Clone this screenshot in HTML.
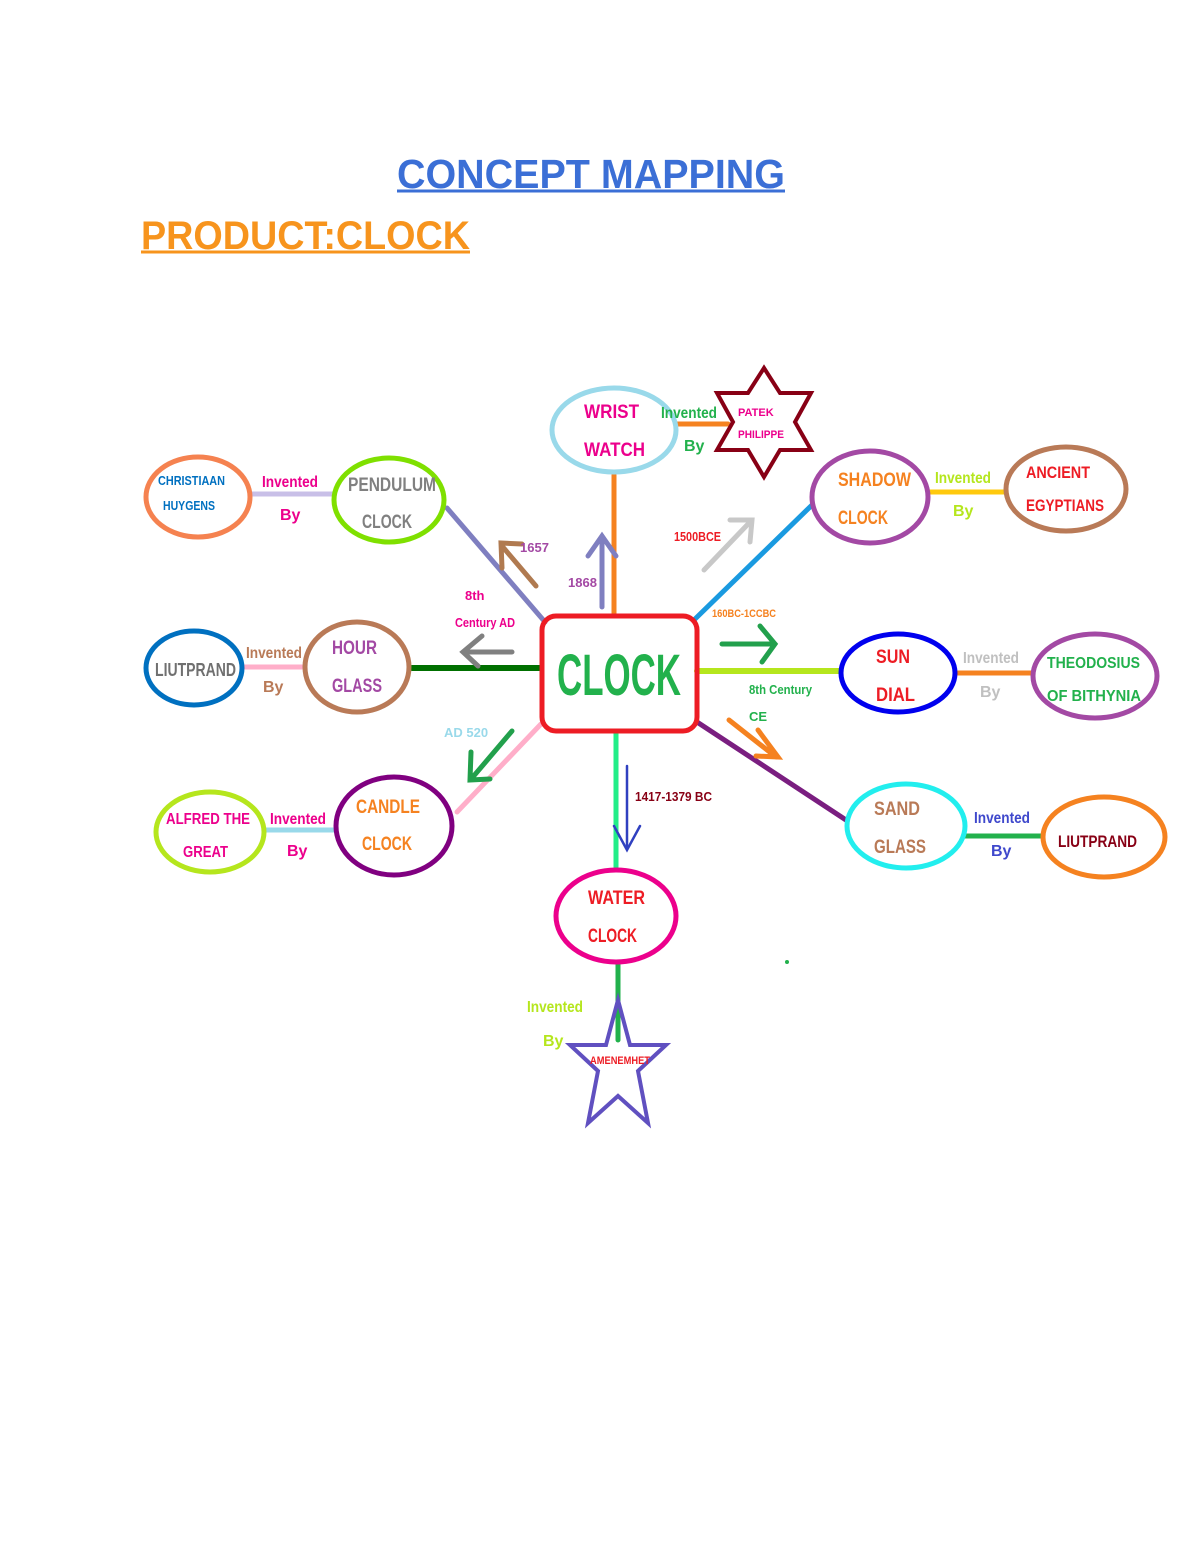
<!DOCTYPE html>
<html><head><meta charset="utf-8"><style>
html,body{margin:0;padding:0;background:#fff}
svg{display:block}
text{font-family:"Comic Sans MS","Liberation Sans",sans-serif;font-weight:bold}
</style></head><body>
<svg width="1200" height="1553" viewBox="0 0 1200 1553" xmlns="http://www.w3.org/2000/svg">
<text x="397" y="188" font-size="41" fill="#3b6fd6" textLength="388" lengthAdjust="spacingAndGlyphs">CONCEPT MAPPING</text>
<line x1="397" y1="191" x2="785" y2="191" stroke="#3b6fd6" stroke-width="3"/>
<text x="141" y="249" font-size="40" fill="#f7941d" textLength="329" lengthAdjust="spacingAndGlyphs">PRODUCT:CLOCK</text>
<line x1="141" y1="252" x2="470" y2="252" stroke="#f7941d" stroke-width="3"/>

<g stroke-width="5" fill="none" stroke-linecap="round">
<line x1="614" y1="475" x2="614" y2="615" stroke="#f58220"/>
<line x1="447" y1="508" x2="545" y2="622" stroke="#7f7fc0"/>
<line x1="694" y1="620" x2="812" y2="505" stroke="#1a9ae0"/>
<line x1="412" y1="668" x2="541" y2="668" stroke="#007000" stroke-width="6"/>
<line x1="697" y1="671" x2="840" y2="671" stroke="#b5e61d" stroke-width="6"/>
<line x1="457" y1="812" x2="541" y2="724" stroke="#ffaec9"/>
<line x1="697" y1="722" x2="846" y2="820" stroke="#7a1e80"/>
<line x1="616" y1="732" x2="616" y2="870" stroke="#22ee88"/>
<line x1="618" y1="962" x2="618" y2="1040" stroke="#22b14c"/>
<line x1="677" y1="424" x2="728" y2="424" stroke="#f58220"/>
<line x1="250" y1="494" x2="334" y2="494" stroke="#c8bfe7"/>
<line x1="929" y1="492" x2="1006" y2="492" stroke="#ffc90e"/>
<line x1="242" y1="667" x2="305" y2="667" stroke="#ffaec9"/>
<line x1="956" y1="673" x2="1033" y2="673" stroke="#f58220"/>
<line x1="265" y1="830" x2="336" y2="830" stroke="#99d9ea"/>
<line x1="965" y1="836" x2="1043" y2="836" stroke="#22b14c"/>
<path d="M602 607 V538 M588 556 L602 536 L616 556" stroke="#7f7fc0"/>
<path d="M536 586 L502 546 M502 568 L501 543 L522 544" stroke="#b07a50"/>
<path d="M704 570 L750 522 M730 520 L752 520 L750 542" stroke="#c8c8c8"/>
<path d="M512 652 H465 M482 636 L463 652 L478 666" stroke="#808080"/>
<path d="M722 644 H773 M760 626 L775 644 L762 662" stroke="#22a04c"/>
<path d="M512 731 L472 778 M471 752 L470 780 L490 779" stroke="#22a04c"/>
<path d="M729 720 L776 757 M758 730 L778 757 L756 756" stroke="#f58220"/>
<path d="M627 766 V848" stroke="#3040c0" stroke-width="2.5"/>
<path d="M614 826 L627 850 L640 826" stroke="#3040c0" stroke-width="2.5"/>
<ellipse cx="614" cy="430" rx="62" ry="42" stroke="#99d9ea"/>
<ellipse cx="198" cy="497" rx="52" ry="40" stroke="#f58250"/>
<ellipse cx="389" cy="500" rx="55" ry="42" stroke="#7fe000"/>
<ellipse cx="870" cy="497" rx="58" ry="46" stroke="#a349a4"/>
<ellipse cx="1066" cy="489" rx="60" ry="42" stroke="#b97a57"/>
<ellipse cx="194" cy="668" rx="48" ry="37" stroke="#0070c0"/>
<ellipse cx="357" cy="667" rx="52" ry="45" stroke="#b97a57"/>
<ellipse cx="898" cy="673" rx="57" ry="39" stroke="#0000ee"/>
<ellipse cx="1095" cy="676" rx="62" ry="42" stroke="#a349a4"/>
<ellipse cx="210" cy="832" rx="54" ry="40" stroke="#b5e61d"/>
<ellipse cx="394" cy="826" rx="58" ry="49" stroke="#800080"/>
<ellipse cx="906" cy="826" rx="59" ry="42" stroke="#22eeee"/>
<ellipse cx="1104" cy="837" rx="61" ry="40" stroke="#f58220"/>
<ellipse cx="616" cy="916" rx="60" ry="46" stroke="#ec008c"/>
<rect x="542" y="616" width="155" height="115" rx="14" stroke="#ed1c24" stroke-width="5"/>
<polygon points="764,368 780,393 811,393 795,422 811,450 780,450 764,477 748,450 717,450 733,422 717,393 748,393" stroke="#880015" stroke-width="4"/>
<polygon points="618,1000 630,1045 666,1045 638,1071 648,1123 618,1096 588,1123 598,1071 570,1045 606,1045" stroke="#6050c0" stroke-width="4"/>
</g>

<g font-size="19" lengthAdjust="spacingAndGlyphs">
<text x="584" y="418" fill="#ec008c" textLength="55" lengthAdjust="spacingAndGlyphs">WRIST</text><text x="584" y="456" fill="#ec008c" textLength="61" lengthAdjust="spacingAndGlyphs">WATCH</text>
<text x="348" y="491" fill="#808080" textLength="88" lengthAdjust="spacingAndGlyphs">PENDULUM</text><text x="362" y="528" fill="#808080" textLength="50" lengthAdjust="spacingAndGlyphs">CLOCK</text>
<text x="838" y="486" fill="#f58220" textLength="73" lengthAdjust="spacingAndGlyphs">SHADOW</text><text x="838" y="524" fill="#f58220" textLength="50" lengthAdjust="spacingAndGlyphs">CLOCK</text>
<text x="1026" y="478" fill="#ed1c24" font-size="17" textLength="64" lengthAdjust="spacingAndGlyphs">ANCIENT</text><text x="1026" y="511" fill="#ed1c24" font-size="17" textLength="78" lengthAdjust="spacingAndGlyphs">EGYPTIANS</text>
<text x="155" y="676" fill="#707070" font-size="18" textLength="81" lengthAdjust="spacingAndGlyphs">LIUTPRAND</text>
<text x="332" y="654" fill="#a349a4" textLength="45" lengthAdjust="spacingAndGlyphs">HOUR</text><text x="332" y="692" fill="#a349a4" textLength="50" lengthAdjust="spacingAndGlyphs">GLASS</text>
<text x="876" y="663" fill="#ed1c24" textLength="34" lengthAdjust="spacingAndGlyphs">SUN</text><text x="876" y="701" fill="#ed1c24" textLength="39" lengthAdjust="spacingAndGlyphs">DIAL</text>
<text x="1047" y="668" fill="#22b14c" font-size="16" textLength="93" lengthAdjust="spacingAndGlyphs">THEODOSIUS</text><text x="1047" y="701" fill="#22b14c" font-size="16" textLength="94" lengthAdjust="spacingAndGlyphs">OF BITHYNIA</text>
<text x="166" y="824" fill="#ec008c" font-size="16" textLength="84" lengthAdjust="spacingAndGlyphs">ALFRED THE</text><text x="183" y="857" fill="#ec008c" font-size="16" textLength="45" lengthAdjust="spacingAndGlyphs">GREAT</text>
<text x="356" y="813" fill="#f58220" textLength="64" lengthAdjust="spacingAndGlyphs">CANDLE</text><text x="362" y="850" fill="#f58220" textLength="50" lengthAdjust="spacingAndGlyphs">CLOCK</text>
<text x="874" y="815" fill="#b97a57" textLength="46" lengthAdjust="spacingAndGlyphs">SAND</text><text x="874" y="853" fill="#b97a57" textLength="52" lengthAdjust="spacingAndGlyphs">GLASS</text>
<text x="1058" y="847" fill="#880015" font-size="17" textLength="79" lengthAdjust="spacingAndGlyphs">LIUTPRAND</text>
<text x="588" y="904" fill="#ed1c24" textLength="57" lengthAdjust="spacingAndGlyphs">WATER</text><text x="588" y="942" fill="#ed1c24" textLength="49" lengthAdjust="spacingAndGlyphs">CLOCK</text>
<text x="557" y="695" fill="#22b14c" font-size="58" textLength="124" lengthAdjust="spacingAndGlyphs">CLOCK</text>
</g>
<g font-size="13">
<text x="158" y="485" fill="#0070c0" textLength="67" lengthAdjust="spacingAndGlyphs">CHRISTIAAN</text><text x="163" y="510" fill="#0070c0" textLength="52" lengthAdjust="spacingAndGlyphs">HUYGENS</text>
<text x="738" y="416" fill="#ec008c" font-size="11">PATEK</text><text x="738" y="438" fill="#ec008c" font-size="11" textLength="46" lengthAdjust="spacingAndGlyphs">PHILIPPE</text>
<text x="590" y="1064" fill="#ed1c24" font-size="11" textLength="60" lengthAdjust="spacingAndGlyphs">AMENEMHET</text>
</g>
<g font-size="16">
<text x="661" y="418" fill="#22b14c" textLength="56" lengthAdjust="spacingAndGlyphs">Invented</text><text x="684" y="451" fill="#22b14c">By</text>
<text x="262" y="487" fill="#ec008c" textLength="56" lengthAdjust="spacingAndGlyphs">Invented</text><text x="280" y="520" fill="#ec008c">By</text>
<text x="935" y="483" fill="#b5e61d" textLength="56" lengthAdjust="spacingAndGlyphs">Invented</text><text x="953" y="516" fill="#b5e61d">By</text>
<text x="246" y="658" fill="#b97a57" textLength="56" lengthAdjust="spacingAndGlyphs">Invented</text><text x="263" y="692" fill="#b97a57">By</text>
<text x="963" y="663" fill="#c0c0c0" textLength="56" lengthAdjust="spacingAndGlyphs">Invented</text><text x="980" y="697" fill="#c0c0c0">By</text>
<text x="270" y="824" fill="#ec008c" textLength="56" lengthAdjust="spacingAndGlyphs">Invented</text><text x="287" y="856" fill="#ec008c">By</text>
<text x="974" y="823" fill="#3f48cc" textLength="56" lengthAdjust="spacingAndGlyphs">Invented</text><text x="991" y="856" fill="#3f48cc">By</text>
<text x="527" y="1012" fill="#b5e61d" textLength="56" lengthAdjust="spacingAndGlyphs">Invented</text><text x="543" y="1046" fill="#b5e61d">By</text>
</g>
<g font-size="13">
<text x="520" y="552" fill="#a349a4">1657</text>
<text x="568" y="587" fill="#a349a4">1868</text>
<text x="674" y="541" fill="#ed1c24" textLength="47" lengthAdjust="spacingAndGlyphs">1500BCE</text>
<text x="465" y="600" fill="#ec008c">8th</text><text x="455" y="627" fill="#ec008c" textLength="60" lengthAdjust="spacingAndGlyphs">Century AD</text>
<text x="712" y="617" fill="#f58220" font-size="11" textLength="64" lengthAdjust="spacingAndGlyphs">160BC-1CCBC</text>
<text x="749" y="694" fill="#22b14c" textLength="63" lengthAdjust="spacingAndGlyphs">8th Century</text><text x="749" y="721" fill="#22b14c">CE</text>
<text x="444" y="737" fill="#99d9ea">AD 520</text>
<text x="635" y="801" fill="#880015" textLength="77" lengthAdjust="spacingAndGlyphs">1417-1379 BC</text>
</g>
<circle cx="787" cy="962" r="2" fill="#22b14c"/>
</svg>
</body></html>
